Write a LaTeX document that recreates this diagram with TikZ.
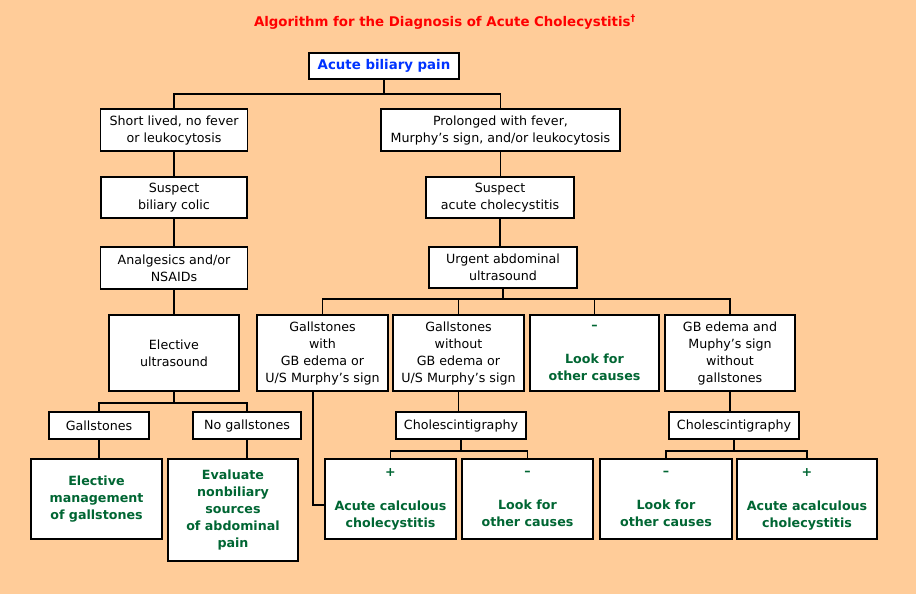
\documentclass[tikz,border=0pt]{standalone}
\usepackage{fontspec}
\setmainfont{DejaVu Sans}
\usepackage{xcolor}
\usepackage{tikz}
\usetikzlibrary{calc}

\definecolor{peach}{HTML}{FFCC99}
\definecolor{resgreen}{HTML}{006633}
\definecolor{titlered}{HTML}{FF0000}
\definecolor{startblue}{HTML}{0033FF}

\begin{document}
\begin{tikzpicture}[
  x=0.75pt, y=-0.75pt,
  font=\fontsize{9.5}{12.75}\selectfont,
  box/.style={draw, line width=1.4pt, fill=white, align=center, inner sep=1pt},
  res/.style={box, text=resgreen, font=\bfseries\fontsize{9.5}{12.75}\selectfont},
  link/.style={line width=1.4pt}
]
\path[use as bounding box, fill=peach] (0,0) rectangle (916,594);

% title
\node[text=titlered, font=\bfseries\fontsize{10}{12}\selectfont] (title) at (445,22)
  {Algorithm for the Diagnosis of Acute Cholecystitis\textsuperscript{†}};

% top levels
\node[box, text=startblue, font=\bfseries\fontsize{10}{12}\selectfont, minimum width=112.5pt, minimum height=19.5pt] (pain) at (384,66) {Acute biliary pain};
\node[box, minimum width=110.25pt, minimum height=31.5pt] (short) at (174,130) {Short lived, no fever\\or leukocytosis};
\node[box, minimum width=179.25pt, minimum height=31.5pt] (prolonged) at (500.5,130) {Prolonged with fever,\\Murphy's sign, and/or leukocytosis};
\node[box, minimum width=109.5pt, minimum height=30.75pt] (colic) at (174,197.5) {Suspect\\biliary colic};
\node[box, minimum width=111pt, minimum height=30.75pt] (suspacute) at (500,197.5) {Suspect\\acute cholecystitis};
\node[box, minimum width=110.25pt, minimum height=31.5pt] (analg) at (174,268) {Analgesics and/or\\NSAIDs};
\node[box, minimum width=111pt, minimum height=30.75pt] (urgent) at (503,267.5) {Urgent abdominal\\ultrasound};

% ultrasound level
\node[box, minimum width=97.5pt, minimum height=57pt] (elective) at (174,353) {Elective\\ultrasound};
\node[box, minimum width=98.25pt, minimum height=57pt] (gwith) at (322.5,353) {Gallstones\\with\\GB edema or\\U/S Murphy's sign};
\node[box, minimum width=98.25pt, minimum height=57pt] (gwithout) at (458.5,353) {Gallstones\\without\\GB edema or\\U/S Murphy's sign};
\node[res, minimum width=96.75pt, minimum height=57pt] (neg) at (594.5,353) {–\\[12.75pt]Look for\\other causes};
\node[box, minimum width=97.5pt, minimum height=57pt] (gbedema) at (730,353) {GB edema and\\Muphy's sign\\without\\gallstones};

% small boxes
\node[box, minimum width=75pt, minimum height=20.25pt] (gall) at (99,425.5) {Gallstones};
\node[box, minimum width=81pt, minimum height=20.25pt] (nogall) at (247,425.5) {No gallstones};
\node[box, minimum width=97.5pt, minimum height=20.25pt] (chol1) at (461,425.5) {Cholescintigraphy};
\node[box, minimum width=97.5pt, minimum height=20.25pt] (chol2) at (734,425.5) {Cholescintigraphy};

% outcomes
\node[res, minimum width=98.25pt, minimum height=60pt] (elecmgmt) at (96.5,499) {Elective\\management\\of gallstones};
\node[res, minimum width=97.5pt, minimum height=76.5pt] (evaluate) at (233,510) {Evaluate\\nonbiliary\\sources\\of abdominal\\pain};
\node[res, minimum width=98.25pt, minimum height=60pt] (calculous) at (390.5,499) {+\\[12.75pt]Acute calculous\\cholecystitis};
\node[res, minimum width=98.25pt, minimum height=60pt] (look1) at (527.5,499) {–\\[12.75pt]Look for\\other causes};
\node[res, minimum width=99pt, minimum height=60pt] (look2) at (666,499) {–\\[12.75pt]Look for\\other causes};
\node[res, minimum width=105pt, minimum height=60pt] (acalc) at (807,499) {+\\[12.75pt]Acute acalculous\\cholecystitis};

% connectors
\draw[link] (pain.south) -- ++(0,14) -| (short.north);
\draw[link] (pain.south) -- ++(0,14) -| (prolonged.north);
\draw[link] (short.south) -- (colic.north);
\draw[link] (colic.south) -- (analg.north);
\draw[link] (analg.south) -- (elective.north);
\draw[link] (prolonged.south) -- (prolonged.south |- suspacute.north);
\draw[link] (suspacute.south) -- (suspacute.south |- urgent.north);
\foreach \c in {gwith,gwithout,neg,gbedema}
  \draw[link] (urgent.south) -- ++(0,10) -| (\c.north);
\foreach \c in {gall,nogall}
  \draw[link] (elective.south) -- ++(0,11) -| (\c.north);
\draw[link] (gall.south) -- (gall.south |- elecmgmt.north);
\draw[link] (nogall.south) -- (nogall.south |- evaluate.north);
\draw[link] ([xshift=-7pt]gwith.south) |- ([yshift=-4.5pt]calculous.west);
\draw[link] (gwithout.south) -- (gwithout.south |- chol1.north);
\foreach \c in {calculous,look1}
  \draw[link] (chol1.south) -- ++(0,11) -| (\c.north);
\draw[link] (gbedema.south) -- (gbedema.south |- chol2.north);
\foreach \c in {look2,acalc}
  \draw[link] (chol2.south) -- ++(0,11) -| (\c.north);
\end{tikzpicture}
\end{document}
